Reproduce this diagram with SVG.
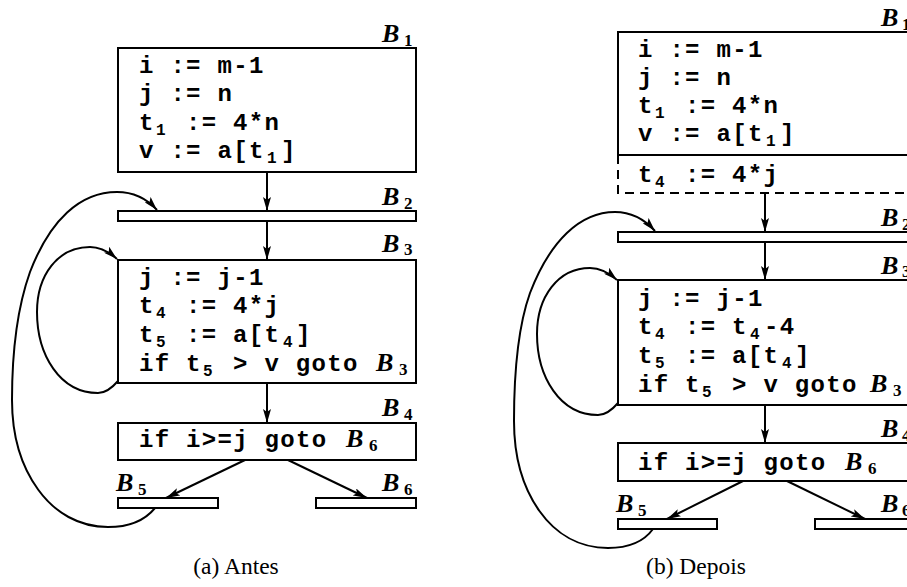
<svg xmlns="http://www.w3.org/2000/svg" width="907" height="587" viewBox="0 0 907 587">
<defs>
<marker id="ah" viewBox="0 0 14 8" refX="14" refY="4" markerWidth="14" markerHeight="8" markerUnits="userSpaceOnUse" orient="auto">
<path d="M0,0 L14,4 L0,8 L3,4 z" fill="#000"/>
</marker>
<style>
.box{fill:#fff;stroke:#000;stroke-width:2}
.dash{fill:none;stroke:#000;stroke-width:2;stroke-dasharray:9,6}
.code{font-family:"Liberation Mono","DejaVu Sans Mono",monospace;font-weight:bold;font-size:24px;letter-spacing:1.3px;fill:#000}
.sub{font-size:16px;letter-spacing:0}
.lbl{font-family:"Liberation Serif","DejaVu Serif",serif;font-weight:bold;font-style:italic;font-size:26px;letter-spacing:0;fill:#000}
.ls{font-family:"Liberation Serif","DejaVu Serif",serif;font-weight:bold;font-size:17px;letter-spacing:0;fill:#000}
.cap{font-family:"Liberation Serif","DejaVu Serif",serif;font-size:23.5px;fill:#000;text-anchor:middle}
.edge{fill:none;stroke:#000;stroke-width:2;marker-end:url(#ah)}
</style>
</defs>
<rect width="907" height="587" fill="#fff"/>

<!-- (a) Antes -->
<g id="a-B1">
<rect class="box" x="118" y="48" width="298" height="124"/>
<text class="lbl" x="382" y="42">B</text><text class="ls" x="404" y="46">1</text>
<text class="code" x="139" y="73" xml:space="preserve">i := m-1</text>
<text class="code" x="139" y="101" xml:space="preserve">j := n</text>
<text class="code" x="139" y="130">t<tspan class="sub" x="156" dy="5">1</tspan><tspan x="186" dy="-5">:= 4*n</tspan></text>
<text class="code" x="139" y="158" xml:space="preserve">v := a[t<tspan class="sub" x="267" dy="5">1</tspan><tspan x="281" dy="-5">]</tspan></text>
</g>
<g id="a-B2">
<rect class="box" x="118" y="211" width="298" height="10"/>
<text class="lbl" x="382" y="205">B</text><text class="ls" x="404" y="209">2</text>
</g>
<g id="a-B3">
<rect class="box" x="118" y="260" width="298" height="123"/>
<text class="lbl" x="382" y="252">B</text><text class="ls" x="404" y="255">3</text>
<text class="code" x="139" y="285" xml:space="preserve">j := j-1</text>
<text class="code" x="139" y="313">t<tspan class="sub" x="156" dy="5">4</tspan><tspan x="186" dy="-5">:= 4*j</tspan></text>
<text class="code" x="139" y="342">t<tspan class="sub" x="156" dy="5">5</tspan><tspan x="186" dy="-5" xml:space="preserve">:= a[t</tspan><tspan class="sub" x="283" dy="5">4</tspan><tspan x="296" dy="-5">]</tspan></text>
<text class="code" x="139" y="371" xml:space="preserve">if t<tspan class="sub" x="203" dy="5">5</tspan><tspan x="233" dy="-5">&gt; v goto</tspan></text>
<text class="lbl" x="376" y="371">B</text><text class="ls" x="399" y="375">3</text>
</g>
<g id="a-B4">
<rect class="box" x="118" y="423" width="298" height="37"/>
<text class="lbl" x="382" y="416">B</text><text class="ls" x="404" y="420">4</text>
<text class="code" x="139" y="447" xml:space="preserve">if i&gt;=j goto</text>
<text class="lbl" x="346" y="447">B</text><text class="ls" x="369" y="451">6</text>
</g>
<g id="a-B5">
<rect class="box" x="118" y="498" width="100" height="10"/>
<text class="lbl" x="116" y="491">B</text><text class="ls" x="138" y="495">5</text>
</g>
<g id="a-B6">
<rect class="box" x="316" y="498" width="100" height="10"/>
<text class="lbl" x="382" y="491">B</text><text class="ls" x="404" y="495">6</text>
</g>
<g id="a-edges">
<line class="edge" x1="267" y1="172" x2="267" y2="211"/>
<line class="edge" x1="267" y1="221" x2="267" y2="260"/>
<line class="edge" x1="267" y1="383" x2="267" y2="423"/>
<line class="edge" x1="245" y1="460" x2="166" y2="498"/>
<line class="edge" x1="288" y1="460" x2="367" y2="498"/>
<path class="edge" d="M118,381 C112,388 106,393 98,393 C60,393 37,355 37,312 C37,275 58,247 90,247 C100,247 108,251 117,259"/>
<path class="edge" d="M155,508 C146,519 132,527 108,527 C50,527 12,470 12,400 C12,340 20,300 30,272 C50,220 80,192 117,192 C135,192 148,200 157,210"/>
</g>
<text class="cap" x="236" y="574">(a) Antes</text>

<!-- (b) Depois -->
<g id="b-B1">
<rect class="box" x="618" y="32" width="298" height="123"/>
<path class="dash" d="M618,155 V193 H916 V155"/>
<text class="lbl" x="881" y="26">B</text><text class="ls" x="902" y="30">1</text>
<text class="code" x="638" y="57" xml:space="preserve">i := m-1</text>
<text class="code" x="638" y="85" xml:space="preserve">j := n</text>
<text class="code" x="638" y="113">t<tspan class="sub" x="655" dy="5">1</tspan><tspan x="685" dy="-5">:= 4*n</tspan></text>
<text class="code" x="638" y="141" xml:space="preserve">v := a[t<tspan class="sub" x="766" dy="5">1</tspan><tspan x="780" dy="-5">]</tspan></text>
<text class="code" x="638" y="182">t<tspan class="sub" x="655" dy="5">4</tspan><tspan x="685" dy="-5">:= 4*j</tspan></text>
</g>
<g id="b-B2">
<rect class="box" x="618" y="232" width="298" height="10"/>
<text class="lbl" x="881" y="226">B</text><text class="ls" x="902" y="230">2</text>
</g>
<g id="b-B3">
<rect class="box" x="618" y="280" width="298" height="125"/>
<text class="lbl" x="881" y="274">B</text><text class="ls" x="902" y="277">3</text>
<text class="code" x="638" y="306" xml:space="preserve">j := j-1</text>
<text class="code" x="638" y="334">t<tspan class="sub" x="655" dy="5">4</tspan><tspan x="685" dy="-5" xml:space="preserve">:= t</tspan><tspan class="sub" x="750" dy="5">4</tspan><tspan x="764" dy="-5">-4</tspan></text>
<text class="code" x="638" y="363">t<tspan class="sub" x="655" dy="5">5</tspan><tspan x="685" dy="-5" xml:space="preserve">:= a[t</tspan><tspan class="sub" x="782" dy="5">4</tspan><tspan x="795" dy="-5">]</tspan></text>
<text class="code" x="638" y="392" xml:space="preserve">if t<tspan class="sub" x="702" dy="5">5</tspan><tspan x="732" dy="-5">&gt; v goto</tspan></text>
<text class="lbl" x="870" y="392">B</text><text class="ls" x="893" y="396">3</text>
</g>
<g id="b-B4">
<rect class="box" x="618" y="443" width="298" height="38"/>
<text class="lbl" x="881" y="437">B</text><text class="ls" x="902" y="441">4</text>
<text class="code" x="638" y="470" xml:space="preserve">if i&gt;=j goto</text>
<text class="lbl" x="845" y="470">B</text><text class="ls" x="868" y="474">6</text>
</g>
<g id="b-B5">
<rect class="box" x="618" y="519" width="99" height="10"/>
<text class="lbl" x="616" y="512">B</text><text class="ls" x="638" y="516">5</text>
</g>
<g id="b-B6">
<rect class="box" x="815" y="519" width="100" height="10"/>
<text class="lbl" x="881" y="512">B</text><text class="ls" x="902" y="516">6</text>
</g>
<g id="b-edges">
<line class="edge" x1="765" y1="193" x2="765" y2="232"/>
<line class="edge" x1="765" y1="242" x2="765" y2="280"/>
<line class="edge" x1="765" y1="405" x2="765" y2="443"/>
<line class="edge" x1="743" y1="481" x2="667" y2="519"/>
<line class="edge" x1="787" y1="481" x2="865" y2="519"/>
<path class="edge" d="M618,403 C612,410 606,415 598,415 C560,415 537,377 537,334 C537,297 558,268 590,268 C600,268 608,272 617,280"/>
<path class="edge" d="M653,529 C645,540 632,548 608,548 C550,548 514,491 514,421 C514,361 520,321 530,293 C550,241 580,212 615,212 C633,212 646,221 655,231"/>
</g>
<text class="cap" x="696" y="574">(b) Depois</text>
</svg>
